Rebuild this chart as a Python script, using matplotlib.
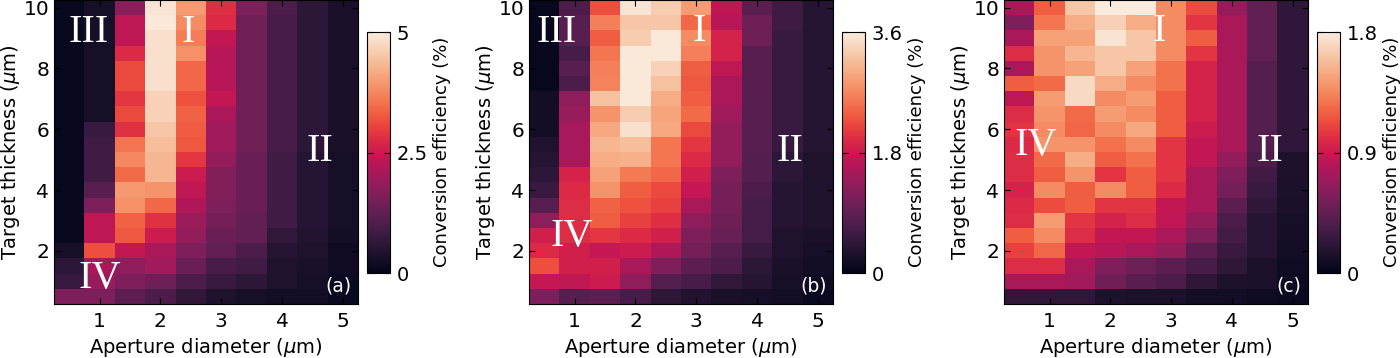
import numpy as np
import seaborn as sns
import matplotlib
matplotlib.use('Agg')
from matplotlib import pyplot as plt

# grid: aperture diameter (um) and target thickness (um), thickness listed top -> bottom
diameter = [0.5, 1.0, 1.5, 2.0, 2.5, 3.0, 3.5, 4.0, 4.5, 5.0]
thickness = [10.0, 9.5, 9.0, 8.5, 8.0, 7.5, 7.0, 6.5, 6.0, 5.5,
             5.0, 4.5, 4.0, 3.5, 3.0, 2.5, 2.0, 1.5, 1.0, 0.5]

# panel (a): conversion efficiency (%), one list per aperture diameter
a_d05 = [0.1] * 16 + [0.3, 0.6, 0.75, 1.6]
a_d10 = [0.3] * 8 + [0.75, 0.85, 0.85, 0.85, 1.15, 1.6, 2.35, 2.35, 3.15, 2.1, 1.9, 1.6]
a_d15 = [1.75, 2.35, 2.35, 2.75, 3.1, 3.1, 2.9, 3.1, 2.85, 3.55,
         3.75, 3.45, 3.95, 3.85, 3.35, 3.25, 2.4, 1.8, 1.6, 1.2]
a_d20 = [4.9, 4.95, 4.85, 4.85, 4.85, 4.85, 4.65, 4.65, 4.5, 4.4,
         4.3, 4.3, 3.9, 3.4, 2.85, 2.5, 2.1, 2.0, 1.4, 1.0]
a_d25 = [3.95, 3.8, 3.65, 3.85, 3.4, 3.4, 3.2, 3.35, 3.3, 3.25,
         2.9, 2.5, 2.35, 2.15, 1.95, 1.85, 1.6, 1.35, 1.0, 0.65]
a_d30 = [2.8, 2.75, 2.4, 2.25, 2.25, 2.25, 2.4, 2.1, 2.0, 2.0,
         1.85, 1.65, 1.65, 1.6, 1.5, 1.35, 1.25, 0.95, 0.75, 0.4]
a_d35 = [1.6] + [1.45] * 9 + [1.35] * 4 + [1.25, 1.25, 1.0, 0.85, 0.6, 0.3]
a_d40 = [1.0] + [0.95] * 9 + [0.85] * 5 + [0.65, 0.5, 0.4, 0.4, 0.25]
a_d45 = [0.6] * 10 + [0.5] * 5 + [0.45, 0.4, 0.35, 0.3, 0.25]
a_d50 = [0.35] * 10 + [0.3] * 5 + [0.25, 0.2, 0.2, 0.15, 0.15]

# panel (b)
b_d05 = [0.07] * 6 + [0.18, 0.18, 0.18, 0.3, 0.36, 0.43, 0.54, 0.83, 1.3, 1.87, 1.98, 2.27, 1.73, 1.15]
b_d10 = [0.72, 0.83, 0.83, 0.68, 0.83, 0.72, 1.3, 1.37, 1.5, 1.5,
         1.5, 1.9, 1.98, 2.0, 2.0, 2.0, 1.87, 1.87, 1.7, 0.83]
b_d15 = [2.27, 2.63, 2.38, 2.56, 2.63, 2.66, 3.2, 2.81, 2.99, 3.1,
         3.02, 2.92, 2.81, 2.41, 2.38, 2.09, 1.73, 1.87, 1.8, 0.86]
b_d20 = [3.53, 3.24, 3.3, 3.56, 3.56, 3.56, 3.56, 3.31, 3.5, 3.17,
         3.06, 2.6, 2.38, 2.3, 2.16, 1.98, 1.8, 1.51, 1.3, 0.68]
b_d25 = [3.31, 3.24, 3.56, 3.56, 3.35, 3.2, 3.02, 2.95, 2.99, 2.56,
         2.56, 2.45, 2.23, 2.16, 2.02, 1.87, 1.55, 1.15, 0.79, 0.43]
b_d30 = [2.88, 2.45, 2.74, 2.63, 2.38, 2.34, 2.38, 2.48, 2.23, 2.09,
         1.98, 1.87, 1.73, 1.51, 1.3, 1.15, 1.08, 0.86, 0.68, 0.32]
b_d35 = [1.69, 1.62, 1.91, 1.91, 1.69, 1.51, 1.51, 1.44, 1.33, 1.33,
         1.33, 1.15, 1.08, 1.08, 1.0, 0.97, 0.83, 0.72, 0.47, 0.25]
b_d40 = [0.86, 1.0, 1.0] + [0.83] * 7 + [0.79, 0.79, 0.72, 0.65, 0.65, 0.65, 0.54, 0.43, 0.36, 0.22]
b_d45 = [0.6, 0.6] + [0.54] * 8 + [0.43, 0.43, 0.36, 0.36, 0.36, 0.29, 0.29, 0.25, 0.22, 0.18]
b_d50 = [0.36] * 10 + [0.29] * 5 + [0.25, 0.22, 0.18, 0.14, 0.11]

# panel (c)
c_d05 = [0.76, 0.58, 0.76, 1.0, 0.76, 1.19, 0.85, 1.0, 1.03, 0.99,
         1.0, 1.0, 0.95, 0.99, 1.0, 1.19, 1.08, 1.0, 0.76, 0.23]
c_d10 = [1.19, 1.28, 1.46, 1.4, 1.4, 1.24, 1.44, 1.4, 1.37, 1.4,
         1.24, 1.19, 1.37, 1.13, 1.44, 1.37, 1.22, 1.0, 0.76, 0.23]
c_d15 = [1.62, 1.51, 1.46, 1.55, 1.46, 1.71, 1.71, 1.24, 1.22, 1.4,
         1.51, 1.4, 1.19, 1.19, 1.04, 1.0, 0.86, 0.76, 0.72, 0.23]
c_d20 = [1.8, 1.67, 1.76, 1.62, 1.62, 1.51, 1.37, 1.44, 1.37, 1.26,
         1.19, 1.04, 1.37, 1.04, 0.95, 0.86, 0.81, 0.58, 0.5, 0.14]
c_d25 = [1.8, 1.51, 1.62, 1.62, 1.46, 1.37, 1.44, 1.37, 1.49, 1.37,
         1.26, 1.19, 1.19, 1.04, 1.0, 0.86, 0.76, 0.5, 0.41, 0.13]
c_d30 = [1.37, 1.37, 1.37, 1.37, 1.26, 1.26, 1.19, 1.19, 1.19, 1.04,
         1.04, 1.04, 0.99, 0.86, 0.85, 0.76, 0.67, 0.43, 0.36, 0.13]
c_d35 = [1.13, 1.04, 1.19, 1.04, 0.95, 0.95, 0.95, 0.95, 0.9, 0.86,
         0.86, 0.76, 0.76, 0.76, 0.67, 0.58, 0.43, 0.34, 0.23, 0.09]
c_d40 = [0.67] + [0.76] * 9 + [0.67, 0.58, 0.54, 0.43, 0.36, 0.32, 0.27, 0.22, 0.14, 0.09]
c_d45 = [0.45] * 4 + [0.4] * 6 + [0.36, 0.31, 0.27, 0.22, 0.18, 0.18, 0.18, 0.13, 0.13, 0.07]
c_d50 = [0.22] * 10 + [0.14, 0.14, 0.13, 0.12, 0.11, 0.1, 0.09, 0.07, 0.06, 0.05]

vmax = [5.0, 3.6, 1.8]
cbar_ticks = [[0, 2.5, 5], [0, 1.8, 3.6], [0, 0.9, 1.8]]
cbar_labels = [['0', '2.5', '5'], ['0', '1.8', '3.6'], ['0', '0.9', '1.8']]
panel_tags = ['(a)', '(b)', '(c)']

# region labels (text, x, y) per panel
regions = [
    [('III', 0.81, 9.17), ('I', 2.45, 9.17), ('II', 4.63, 5.28), ('IV', 1.0, 1.1)],
    [('III', 0.71, 9.17), ('I', 3.05, 9.2), ('II', 4.54, 5.28), ('IV', 0.96, 2.47)],
    [('I', 2.8, 9.2), ('II', 4.63, 5.28), ('IV', 0.78, 5.45)],
]

panels = [
    np.column_stack([a_d05, a_d10, a_d15, a_d20, a_d25, a_d30, a_d35, a_d40, a_d45, a_d50]),
    np.column_stack([b_d05, b_d10, b_d15, b_d20, b_d25, b_d30, b_d35, b_d40, b_d45, b_d50]),
    np.column_stack([c_d05, c_d10, c_d15, c_d20, c_d25, c_d30, c_d35, c_d40, c_d45, c_d50]),
]

cmap = sns.color_palette('rocket', as_cmap=True)

fig = plt.figure(figsize=(14, 3.58), dpi=100)
ax_left = [0.0386, 0.3779, 0.7171]
cb_left = [0.2621, 0.6014, 0.9407]

for i, Z in enumerate(panels):
    ax = fig.add_axes([ax_left[i], 0.1508, 0.2171, 0.849])
    mesh = ax.pcolormesh(diameter, thickness, Z, cmap=cmap, vmin=0, vmax=vmax[i],
                         shading='nearest', rasterized=True)
    ax.set_xlim(0.25, 5.25)
    ax.set_ylim(0.25, 10.25)
    ax.set_xticks([1, 2, 3, 4, 5])
    ax.set_yticks([2, 4, 6, 8, 10])
    ax.tick_params(direction='in', top=True, right=True, labelsize=14.5, length=4)
    ax.tick_params(axis='x', pad=6)
    ax.set_xlabel(r'Aperture diameter ($\mu$m)', fontsize=14, labelpad=3)
    ax.set_ylabel(r'Target thickness ($\mu$m)', fontsize=14, labelpad=1)

    for txt, x, y in regions[i]:
        ax.text(x, y, txt, color='white', fontsize=29, family='Liberation Serif',
                ha='center', va='center')
    ax.text(4.93, 0.85, panel_tags[i], color='white', fontsize=13.5,
            ha='center', va='center')

    cax = fig.add_axes([cb_left[i], 0.2374, 0.0164, 0.673])
    cb = fig.colorbar(mesh, cax=cax)
    cb.set_ticks(cbar_ticks[i])
    cb.set_ticklabels(cbar_labels[i])
    cax.tick_params(direction='in', left=True, right=True, labelsize=14, length=4, pad=5)
    # colorbar title placed at a fixed offset from the bar
    fig.text(cb_left[i] + 75 / 1400, 0.577, 'Conversion efficiency (%)', fontsize=13,
             rotation=90, ha='center', va='center')

fig.savefig('out.png', dpi=100)
